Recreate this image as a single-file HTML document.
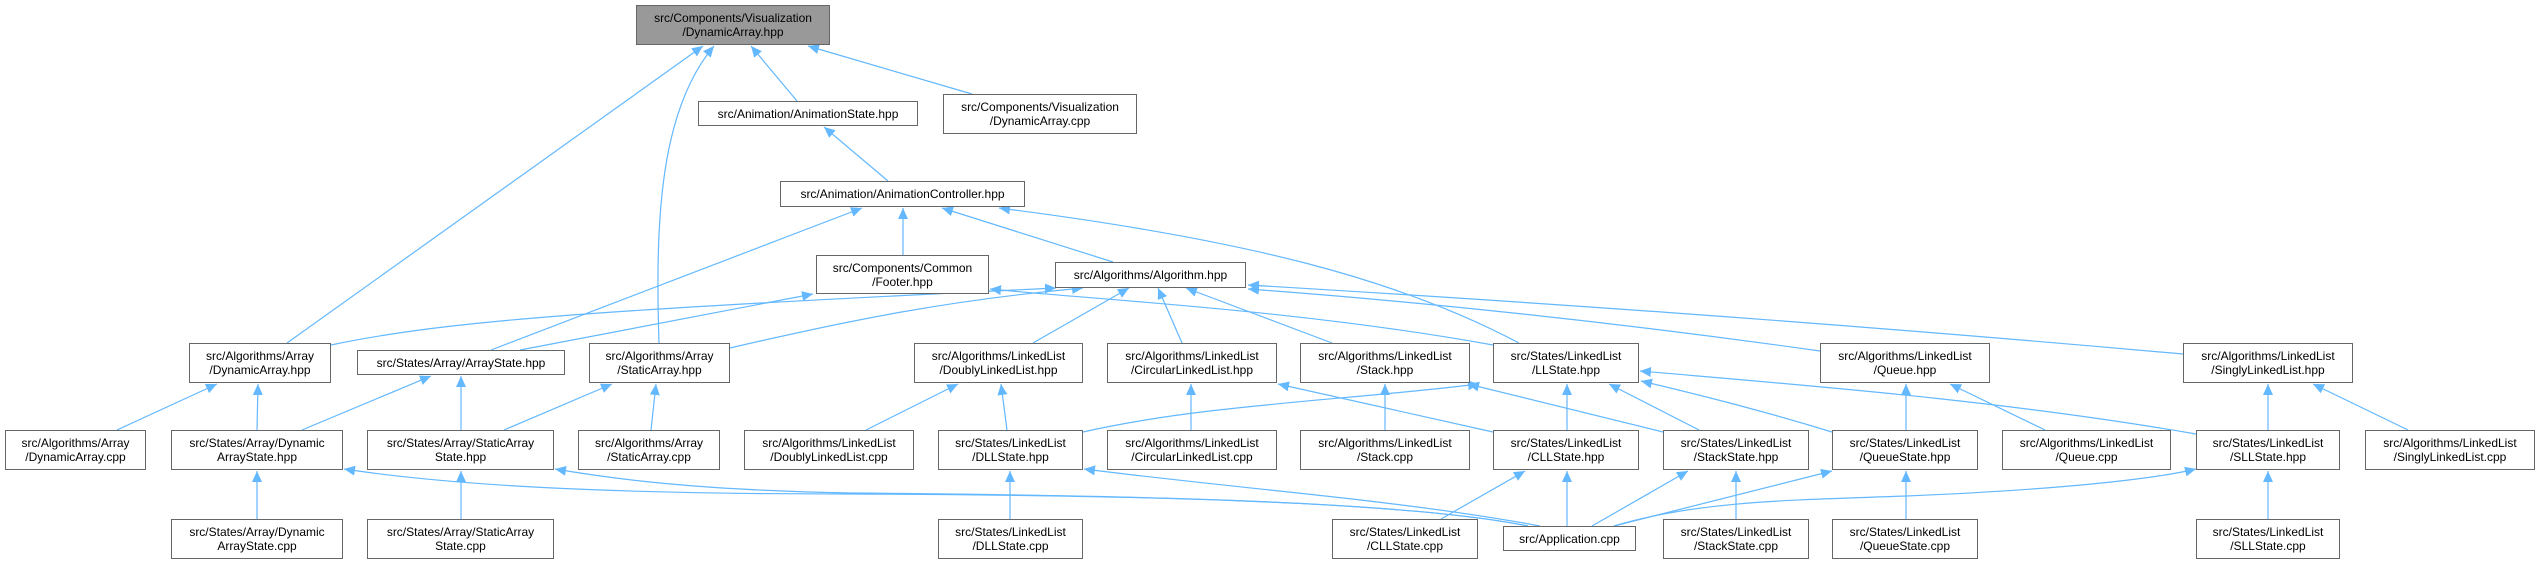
<!DOCTYPE html>
<html><head><meta charset="utf-8"><style>
html,body{margin:0;padding:0;background:#fff;}
body{width:2539px;height:564px;position:relative;overflow:hidden;font-family:"Liberation Sans",sans-serif;}
.n{position:absolute;box-sizing:border-box;border:1px solid #666;background:#fff;display:flex;align-items:center;justify-content:center;text-align:center;font-size:12px;line-height:14px;color:#000;white-space:nowrap;}
.r{background:#999;}
svg{position:absolute;left:0;top:0;}
</style></head><body>
<svg width="2539" height="564" viewBox="0 0 2539 564">
<defs><marker id="a" markerUnits="userSpaceOnUse" markerWidth="12" markerHeight="10" refX="11" refY="5" orient="auto"><path d="M0,0 L11,5 L0,10 z" fill="#63b8ff"/></marker></defs>
<g fill="none" stroke="#63b8ff" stroke-width="1.2" marker-end="url(#a)">
<path d="M287,343 L703,46"/>
<path d="M659,343 C655,220 660,110 714,46"/>
<path d="M797,101 L751,46"/>
<path d="M972,94 L808,46"/>
<path d="M888,181 L824,127"/>
<path d="M491,350 L862,208"/>
<path d="M903,255 L903,208"/>
<path d="M1113,262 L942,208"/>
<path d="M1519,343 C1400,280 1250,240 999,208"/>
<path d="M520,350 L813,294"/>
<path d="M1493,345 C1300,310 1100,300 990,289"/>
<path d="M331,345 C450,320 600,310 1056,288"/>
<path d="M730,348 C850,320 950,300 1083,288"/>
<path d="M1033,343 L1129,288"/>
<path d="M1182,343 L1158,288"/>
<path d="M1332,343 L1186,288"/>
<path d="M1820,351 C1600,320 1400,300 1248,289"/>
<path d="M2183,354 C1800,320 1500,300 1248,285"/>
<path d="M117,430 L217,384"/>
<path d="M257,430 L258,384"/>
<path d="M302,430 L431,376"/>
<path d="M461,430 L461,376"/>
<path d="M504,430 L612,384"/>
<path d="M651,430 L656,384"/>
<path d="M866,430 L958,384"/>
<path d="M1007,430 L1001,384"/>
<path d="M1083,432 C1200,405 1350,400 1479,384"/>
<path d="M1191,430 L1191,384"/>
<path d="M1493,432 L1278,384"/>
<path d="M1385,430 L1385,384"/>
<path d="M1663,432 L1468,384"/>
<path d="M1567,430 L1567,384"/>
<path d="M1699,430 L1609,384"/>
<path d="M1832,432 C1760,410 1700,395 1641,381"/>
<path d="M2196,434 C2000,400 1800,385 1640,371"/>
<path d="M1906,430 L1906,384"/>
<path d="M2045,430 L1950,384"/>
<path d="M2268,430 L2268,384"/>
<path d="M2408,430 L2313,384"/>
<path d="M257,519 L257,471"/>
<path d="M461,519 L461,471"/>
<path d="M1010,519 L1010,471"/>
<path d="M1441,519 L1525,471"/>
<path d="M1736,519 L1736,471"/>
<path d="M1906,519 L1906,471"/>
<path d="M2268,519 L2268,471"/>
<path d="M1528,526 C1400,500 1100,495 850,494 C600,494 450,485 344,469"/>
<path d="M1528,526 C1400,500 1100,495 850,493 C700,490 620,480 555,469"/>
<path d="M1540,526 C1400,500 1250,490 1084,469"/>
<path d="M1567,526 L1567,471"/>
<path d="M1592,526 L1688,471"/>
<path d="M1614,526 L1832,471"/>
<path d="M1614,526 C1700,500 1800,500 1907,496 C2050,490 2150,480 2196,469"/>
</g>
</svg>
<div class="n r" style="left:636px;top:5px;width:194px;height:40px">src/Components/Visualization<br>/DynamicArray.hpp</div>
<div class="n" style="left:698px;top:101px;width:220px;height:25px">src/Animation/AnimationState.hpp</div>
<div class="n" style="left:943px;top:94px;width:194px;height:40px">src/Components/Visualization<br>/DynamicArray.cpp</div>
<div class="n" style="left:780px;top:181px;width:245px;height:26px">src/Animation/AnimationController.hpp</div>
<div class="n" style="left:816px;top:255px;width:173px;height:39px">src/Components/Common<br>/Footer.hpp</div>
<div class="n" style="left:1055px;top:262px;width:191px;height:26px">src/Algorithms/Algorithm.hpp</div>
<div class="n" style="left:189px;top:343px;width:142px;height:40px">src/Algorithms/Array<br>/DynamicArray.hpp</div>
<div class="n" style="left:357px;top:350px;width:208px;height:25px">src/States/Array/ArrayState.hpp</div>
<div class="n" style="left:589px;top:343px;width:141px;height:40px">src/Algorithms/Array<br>/StaticArray.hpp</div>
<div class="n" style="left:914px;top:343px;width:169px;height:40px">src/Algorithms/LinkedList<br>/DoublyLinkedList.hpp</div>
<div class="n" style="left:1107px;top:343px;width:170px;height:40px">src/Algorithms/LinkedList<br>/CircularLinkedList.hpp</div>
<div class="n" style="left:1300px;top:343px;width:170px;height:40px">src/Algorithms/LinkedList<br>/Stack.hpp</div>
<div class="n" style="left:1493px;top:343px;width:146px;height:40px">src/States/LinkedList<br>/LLState.hpp</div>
<div class="n" style="left:1820px;top:343px;width:170px;height:40px">src/Algorithms/LinkedList<br>/Queue.hpp</div>
<div class="n" style="left:2183px;top:343px;width:170px;height:40px">src/Algorithms/LinkedList<br>/SinglyLinkedList.hpp</div>
<div class="n" style="left:5px;top:430px;width:141px;height:40px">src/Algorithms/Array<br>/DynamicArray.cpp</div>
<div class="n" style="left:171px;top:430px;width:172px;height:40px">src/States/Array/Dynamic<br>ArrayState.hpp</div>
<div class="n" style="left:367px;top:430px;width:187px;height:40px">src/States/Array/StaticArray<br>State.hpp</div>
<div class="n" style="left:578px;top:430px;width:142px;height:40px">src/Algorithms/Array<br>/StaticArray.cpp</div>
<div class="n" style="left:744px;top:430px;width:170px;height:40px">src/Algorithms/LinkedList<br>/DoublyLinkedList.cpp</div>
<div class="n" style="left:938px;top:430px;width:145px;height:40px">src/States/LinkedList<br>/DLLState.hpp</div>
<div class="n" style="left:1107px;top:430px;width:170px;height:40px">src/Algorithms/LinkedList<br>/CircularLinkedList.cpp</div>
<div class="n" style="left:1300px;top:430px;width:170px;height:40px">src/Algorithms/LinkedList<br>/Stack.cpp</div>
<div class="n" style="left:1493px;top:430px;width:146px;height:40px">src/States/LinkedList<br>/CLLState.hpp</div>
<div class="n" style="left:1663px;top:430px;width:146px;height:40px">src/States/LinkedList<br>/StackState.hpp</div>
<div class="n" style="left:1832px;top:430px;width:146px;height:40px">src/States/LinkedList<br>/QueueState.hpp</div>
<div class="n" style="left:2002px;top:430px;width:169px;height:40px">src/Algorithms/LinkedList<br>/Queue.cpp</div>
<div class="n" style="left:2196px;top:430px;width:144px;height:40px">src/States/LinkedList<br>/SLLState.hpp</div>
<div class="n" style="left:2365px;top:430px;width:170px;height:40px">src/Algorithms/LinkedList<br>/SinglyLinkedList.cpp</div>
<div class="n" style="left:171px;top:519px;width:172px;height:40px">src/States/Array/Dynamic<br>ArrayState.cpp</div>
<div class="n" style="left:367px;top:519px;width:187px;height:40px">src/States/Array/StaticArray<br>State.cpp</div>
<div class="n" style="left:938px;top:519px;width:145px;height:40px">src/States/LinkedList<br>/DLLState.cpp</div>
<div class="n" style="left:1332px;top:519px;width:146px;height:40px">src/States/LinkedList<br>/CLLState.cpp</div>
<div class="n" style="left:1503px;top:526px;width:133px;height:25px">src/Application.cpp</div>
<div class="n" style="left:1663px;top:519px;width:146px;height:40px">src/States/LinkedList<br>/StackState.cpp</div>
<div class="n" style="left:1832px;top:519px;width:146px;height:40px">src/States/LinkedList<br>/QueueState.cpp</div>
<div class="n" style="left:2196px;top:519px;width:144px;height:40px">src/States/LinkedList<br>/SLLState.cpp</div>
</body></html>
